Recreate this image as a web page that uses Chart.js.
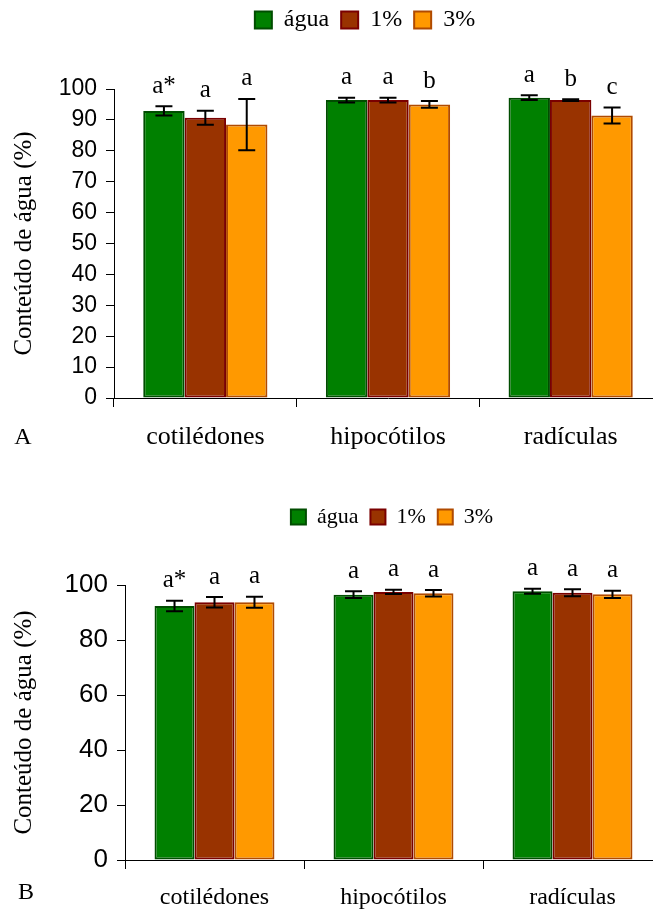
<!DOCTYPE html>
<html>
<head>
<meta charset="utf-8">
<script src="https://cdn.jsdelivr.net/npm/chart.js@4.4.1/dist/chart.umd.min.js"></script>
<style>
  html, body { margin: 0; padding: 0; background: #fff; overflow: hidden; }
  .wrap { position: relative; width: 662px; }
  #wrapA { height: 470px; }
  #wrapB { height: 445px; }
</style>
</head>
<body>
<div class="wrap" id="wrapA"><canvas id="chartA"></canvas></div>
<div class="wrap" id="wrapB"><canvas id="chartB"></canvas></div>
<script>
// categories and series
const categories = ["cotilédones", "hipocótilos", "radículas"];
const seriesNames = ["água", "1%", "3%"];

// panel A (means, errors, letters)
const aAgua = [92.9, 96.4, 97.2];
const a1pct = [90.7, 96.4, 96.4];
const a3pct = [88.5, 95.0, 91.4];
const aAguaErr = [1.5, 0.8, 0.8];
const a1pctErr = [2.3, 0.8, 0.3];
const a3pctErr = [8.3, 1.1, 2.6];
const aAguaLetters = ["a*", "a", "a"];
const a1pctLetters = ["a", "a", "b"];
const a3pctLetters = ["a", "b", "c"];
const aTicks = [0, 10, 20, 30, 40, 50, 60, 70, 80, 90, 100];

// panel B
const bAgua = [92.4, 96.5, 97.7];
const b1pct = [93.7, 97.5, 97.2];
const b3pct = [93.7, 97.0, 96.6];
const bAguaErr = [1.9, 1.2, 0.9];
const b1pctErr = [1.9, 0.8, 1.3];
const b3pctErr = [2.0, 1.2, 1.3];
const bAguaLetters = ["a*", "a", "a"];
const b1pctLetters = ["a", "a", "a"];
const b3pctLetters = ["a", "a", "a"];
const bTicks = [0, 20, 40, 60, 80, 100];

const SERIF = "'Liberation Serif', 'Times New Roman', serif";
const SANS = "'Liberation Sans', Arial, sans-serif";

const fills = ["#008000", "#993300", "#ff9900"];
const borders = ["#004d00", "#7a0000", "#b04a00"];
const LEGEND_PAD = 12;

// error bars + significance letters
const errorBars = {
  id: "errorBars",
  afterDatasetsDraw(chart) {
    const ctx = chart.ctx;
    const y = chart.scales.y;
    ctx.save();
    chart.data.datasets.forEach((ds, i) => {
      const meta = chart.getDatasetMeta(i);
      meta.data.forEach((bar, j) => {
        const v = ds.data[j], e = ds.errors[j];
        const top = y.getPixelForValue(v + e);
        const bot = y.getPixelForValue(v - e);
        ctx.strokeStyle = "#000";
        ctx.lineWidth = 2;
        ctx.beginPath();
        ctx.moveTo(bar.x, top); ctx.lineTo(bar.x, bot);
        ctx.moveTo(bar.x - 8.5, top); ctx.lineTo(bar.x + 8.5, top);
        ctx.moveTo(bar.x - 8.5, bot); ctx.lineTo(bar.x + 8.5, bot);
        ctx.stroke();
        ctx.fillStyle = "#000";
        ctx.font = "25px " + SERIF;
        ctx.textAlign = "center";
        ctx.textBaseline = "middle";
        ctx.fillText(ds.letters[j], bar.x, top - 20);
      });
    });
    ctx.restore();
  }
};

// move legend to its place above the plot, draw panel letter
const panelExtras = {
  id: "panelExtras",
  afterLayout(chart, args, opts) {
    const lg = chart.legend;
    if (!lg) return;
    const dx = opts.legendCenterX - (lg.left + lg.right) / 2;
    lg.left += dx; lg.right += dx;
    const lab = chart.options.plugins.legend.labels;
    const h = Math.max(lab.font.size, lab.boxHeight);
    lg.top = opts.legendCenterY - lab.padding - h / 2;
    lg.bottom = lg.top + lg.height;
  },
  afterDraw(chart, args, opts) {
    const ctx = chart.ctx;
    ctx.save();
    ctx.fillStyle = "#000";
    ctx.font = opts.panelFont + "px " + SERIF;
    ctx.textAlign = "center";
    ctx.textBaseline = "middle";
    ctx.fillText(opts.panel, opts.panelX, opts.panelY);
    ctx.restore();
  }
};

function makeChart(id, p) {
  // legend box height = item height + padding + 10
  const legendH = Math.max(p.legendFont, p.box) + LEGEND_PAD + 10;
  return new Chart(document.getElementById(id), {
    type: "bar",
    data: {
      labels: categories,
      datasets: p.series.map((vals, i) => ({
        label: seriesNames[i],
        data: vals,
        errors: p.errors[i],
        letters: p.letters[i],
        backgroundColor: fills[i],
        borderColor: borders[i],
        borderWidth: 2,
        borderSkipped: false,
        barPercentage: 1.0,
        categoryPercentage: p.catPct
      }))
    },
    options: {
      responsive: true,
      maintainAspectRatio: false,
      animation: false,
      layout: { padding: { top: p.top - legendH, left: 0, right: 0, bottom: 0 } },
      plugins: {
        legend: {
          position: "top",
          align: "center",
          labels: {
            color: "#000",
            font: { family: SERIF, size: p.legendFont },
            boxWidth: p.box, boxHeight: p.box,
            padding: LEGEND_PAD
          }
        },
        tooltip: { enabled: false },
        panelExtras: {
          legendCenterX: p.legendX, legendCenterY: p.legendY,
          panel: p.panel, panelX: p.panelX, panelY: p.panelY, panelFont: 24
        }
      },
      scales: {
        x: {
          offset: true,
          grid: { display: true, offset: true, drawOnChartArea: false, drawTicks: true, tickLength: 9, color: "#000" },
          border: { color: "#000", width: 1 },
          ticks: { color: "#000", font: { family: SERIF, size: p.catFont }, padding: p.catPad, maxRotation: 0 },
          afterFit(s) { s.height = p.xHeight; }
        },
        y: {
          min: 0, max: 100,
          afterBuildTicks(s) { s.ticks = p.ticks.map(v => ({ value: v })); },
          grid: { drawOnChartArea: false, tickLength: 8, color: "#000" },
          border: { color: "#000", width: 1 },
          ticks: { color: "#000", font: { family: SANS, size: p.tickFont }, padding: 9 },
          title: {
            display: true, text: "Conteúdo de água (%)", color: "#000",
            font: { family: SERIF, size: p.titleFont }, padding: { top: p.titlePad, bottom: 0 }
          },
          afterFit(s) { s.width = p.yWidth; }
        }
      }
    },
    plugins: [errorBars, panelExtras]
  });
}

makeChart("chartA", {
  series: [aAgua, a1pct, a3pct],
  errors: [aAguaErr, a1pctErr, a3pctErr],
  letters: [aAguaLetters, a1pctLetters, a3pctLetters],
  ticks: aTicks,
  catPct: 0.68, top: 89, xHeight: 72, yWidth: 114,
  legendFont: 24, box: 17, legendX: 365, legendY: 20,
  catFont: 26, catPad: 15, tickFont: 23, titleFont: 25, titlePad: 9,
  panel: "A", panelX: 23, panelY: 438
});

makeChart("chartB", {
  series: [bAgua, b1pct, b3pct],
  errors: [bAguaErr, b1pctErr, b3pctErr],
  letters: [bAguaLetters, b1pctLetters, b3pctLetters],
  ticks: bTicks,
  catPct: 0.67, top: 115, xHeight: 55, yWidth: 125,
  legendFont: 22, box: 15, legendX: 392, legendY: 47,
  catFont: 24, catPad: 14, tickFont: 26, titleFont: 25, titlePad: 9,
  panel: "B", panelX: 26, panelY: 423
});
</script>
</body>
</html>
